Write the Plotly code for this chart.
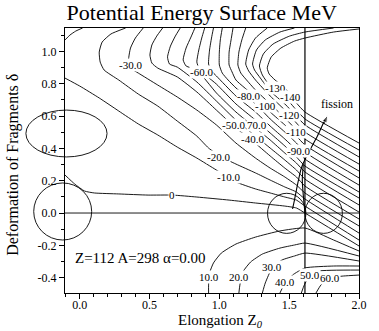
import plotly.graph_objects as go

# contour levels (MeV); x = elongation Z0, y = deformation delta
# None splits a level into separate pieces
lvl_m10_x = [-0.105, -0.070, -0.028, 0.021, None, -0.105, 0.000, 0.140, 0.280, 0.420, 0.559, 0.699, 0.839, 0.979, 1.119, 1.259, 1.364, 1.469, 1.552, 1.613, 2.000]
lvl_m10_y = [1.071, 1.101, 1.126, 1.145, None, 0.835, 0.786, 0.712, 0.631, 0.551, 0.483, 0.408, 0.340, 0.266, 0.192, 0.149, 0.124, 0.099, 0.080, 0.043, -0.167]
lvl_m20_x = [0.329, 0.224, 0.161, 0.140, 0.147, 0.175, 0.280, 0.420, 0.559, 0.699, 0.839, 0.923, 1.014, 1.119, 1.259, 1.364, 1.469, 1.552, 1.613, 2.000]
lvl_m20_y = [1.145, 1.108, 1.058, 0.996, 0.934, 0.885, 0.823, 0.736, 0.662, 0.569, 0.476, 0.402, 0.347, 0.303, 0.248, 0.204, 0.161, 0.130, 0.087, -0.124]
lvl_m30_x = [0.455, 0.399, 0.364, 0.350, 0.364, 0.420, 0.559, 0.699, 0.839, 0.979, 1.119, 1.259, 1.364, 1.469, 1.552, 1.613, 2.000]
lvl_m30_y = [1.145, 1.083, 1.021, 0.947, 0.897, 0.866, 0.792, 0.718, 0.637, 0.545, 0.433, 0.340, 0.278, 0.223, 0.173, 0.124, -0.080]
lvl_m40_x = [0.594, 0.552, 0.517, 0.503, 0.517, 0.559, 0.699, 0.839, 0.979, 1.119, 1.238, 1.364, 1.469, 1.552, 1.613, 2.000]
lvl_m40_y = [1.145, 1.095, 1.040, 0.978, 0.928, 0.897, 0.842, 0.749, 0.637, 0.526, 0.446, 0.353, 0.278, 0.223, 0.167, -0.037]
lvl_m50_x = [0.720, 0.685, 0.650, 0.629, 0.643, 0.699, 0.839, 0.979, 1.119, 1.259, 1.364, 1.469, 1.552, 1.613, 2.000]
lvl_m50_y = [1.145, 1.095, 1.033, 0.965, 0.922, 0.903, 0.811, 0.693, 0.575, 0.476, 0.402, 0.328, 0.266, 0.210, 0.006]
lvl_m60_x = [0.825, 0.797, 0.762, 0.741, 0.762, 0.839, 0.979, 1.119, 1.259, 1.364, 1.469, 1.552, 1.613, 2.000]
lvl_m60_y = [1.145, 1.089, 1.021, 0.947, 0.910, 0.885, 0.743, 0.625, 0.526, 0.452, 0.371, 0.309, 0.254, 0.050]
lvl_m70_x = [0.895, 0.874, 0.853, 0.839, 0.860, 0.909, 0.979, 1.119, 1.259, 1.364, 1.469, 1.552, 1.613, 2.000]
lvl_m70_y = [1.145, 1.083, 1.009, 0.934, 0.885, 0.848, 0.798, 0.675, 0.575, 0.495, 0.415, 0.347, 0.291, 0.093]
lvl_m80_x = [0.958, 0.944, 0.930, 0.923, 0.944, 0.979, 1.119, 1.259, 1.364, 1.469, 1.552, 1.613, 2.000]
lvl_m80_y = [1.145, 1.083, 1.009, 0.922, 0.879, 0.848, 0.724, 0.625, 0.538, 0.458, 0.390, 0.334, 0.130]
lvl_m90_x = [1.021, 1.007, 1.000, 1.000, 1.021, 1.063, 1.119, 1.259, 1.364, 1.469, 1.552, 1.613, 2.000]
lvl_m90_y = [1.145, 1.071, 0.996, 0.916, 0.866, 0.823, 0.774, 0.675, 0.582, 0.501, 0.433, 0.377, 0.173]
lvl_m100_x = [1.098, 1.084, 1.070, 1.070, 1.091, 1.119, 1.259, 1.364, 1.469, 1.552, 1.613, 2.000]
lvl_m100_y = [1.145, 1.071, 0.996, 0.916, 0.873, 0.823, 0.718, 0.625, 0.545, 0.476, 0.421, 0.217]
lvl_m110_x = [1.189, 1.161, 1.140, 1.133, 1.154, 1.189, 1.259, 1.364, 1.469, 1.552, 1.613, 2.000]
lvl_m110_y = [1.145, 1.071, 0.996, 0.916, 0.866, 0.829, 0.761, 0.675, 0.588, 0.514, 0.458, 0.260]
lvl_m120_x = [1.343, 1.259, 1.210, 1.189, 1.210, 1.259, 1.364, 1.469, 1.552, 1.613, 2.000]
lvl_m120_y = [1.145, 1.083, 1.009, 0.922, 0.879, 0.823, 0.724, 0.637, 0.557, 0.501, 0.303]
lvl_m130_x = [1.538, 1.434, 1.329, 1.266, 1.238, 1.252, 1.294, 1.364, 1.469, 1.552, 1.613, 2.000]
lvl_m130_y = [1.145, 1.120, 1.071, 1.009, 0.922, 0.885, 0.835, 0.755, 0.675, 0.600, 0.545, 0.347]
lvl_m140_x = [1.818, 1.613, 1.503, 1.385, 1.315, 1.287, 1.308, 1.364, 1.469, 1.552, 1.613, 2.000]
lvl_m140_y = [1.145, 1.120, 1.095, 1.046, 0.984, 0.910, 0.854, 0.786, 0.718, 0.637, 0.582, 0.390]
lvl_m150_x = [2.000, 1.818, 1.613, 1.538, 1.441, 1.371, 1.343, 1.357, 1.399, 1.469, 1.552, 1.613, 2.000]
lvl_m150_y = [1.139, 1.120, 1.083, 1.064, 1.021, 0.965, 0.897, 0.860, 0.823, 0.774, 0.681, 0.625, 0.433]
lvl_0_x = [-0.105, -0.035, 0.035, 0.105, 0.280, 0.490, 0.664, 0.839, 1.070, 1.259, 1.469, 1.552, 1.613, 2.000]
lvl_0_y = [0.235, 0.179, 0.136, 0.124, 0.118, 0.111, 0.111, 0.099, 0.080, 0.062, 0.043, 0.031, 0.000, -0.204]
lvl_10_x = [0.923, 0.923, 0.930, 0.958, 1.014, 1.119, 1.259, 1.434, 1.613, 1.818, 2.000]
lvl_10_y = [-0.495, -0.446, -0.371, -0.309, -0.248, -0.192, -0.149, -0.111, -0.093, -0.167, -0.235]
lvl_20_x = [1.140, 1.147, 1.168, 1.224, 1.308, 1.434, 1.538, 1.613, 2.000]
lvl_20_y = [-0.495, -0.446, -0.365, -0.303, -0.254, -0.217, -0.198, -0.186, -0.266]
lvl_30_x = [1.308, 1.329, 1.378, 1.448, 1.538, 1.613, 2.000]
lvl_30_y = [-0.495, -0.433, -0.340, -0.291, -0.266, -0.248, -0.297]
lvl_40_x = [1.434, 1.455, 1.483, 1.524, 1.613, 1.818, 2.000]
lvl_40_y = [-0.495, -0.458, -0.427, -0.384, -0.340, -0.328, -0.328]
lvl_50_x = [1.587, 1.608, 1.650, 1.713, 2.000]
lvl_50_y = [-0.495, -0.446, -0.384, -0.359, -0.353]
lvl_60_x = [1.692, 1.727, 1.783, 1.888, 2.000]
lvl_60_y = [-0.495, -0.446, -0.402, -0.390, -0.384]

# contour labels as printed on the figure
lab_text = ["-10.0", "-20.0", "-30.0", "-40.0", "-50.0", "70.0", "-60.0", "-80.0", "-100", "-110",
            "-120", "-130", "-140", "-90.0", "0", "10.0", "20.0", "30.0", "40.0", "50.0", "60.0"]
lab_x = [1.063, 0.993, 0.364, 1.238, 1.098, 1.273, 0.874, 1.210, 1.329, 1.552,
         1.503, 1.399, 1.510, 1.566, 0.664, 0.923, 1.140, 1.378, 1.469, 1.650, 1.790]
lab_y = [0.223, 0.347, 0.916, 0.458, 0.545, 0.545, 0.873, 0.724, 0.662, 0.501,
         0.606, 0.774, 0.718, 0.384, 0.111, -0.396, -0.396, -0.334, -0.427, -0.384, -0.402]

# fission path (two strands of the loop), arrow tip and scission point
path_x = [1.524, 1.538, 1.559, 1.587, 1.629, 1.699, 1.755, None, 1.613, 1.601, 1.594, 1.601]
path_y = [0.025, 0.080, 0.173, 0.278, 0.359, 0.470, 0.575, None, 0.000, 0.111, 0.204, 0.297]
arrow_x = [1.748, 1.776]
arrow_y = [0.551, 0.606]
z_scission = 1.613

# shape sketches (bounding boxes of the drawn nuclei)
circ_x0 = [-0.385, -0.329, 1.345, 1.613]
circ_x1 = [0.196, 0.086, 1.620, 1.881]
circ_y0 = [0.347, -0.167, -0.126, -0.126]
circ_y1 = [0.637, 0.186, 0.122, 0.122]

XR = [-0.105, 2.0]
YR = [-0.495, 1.145]
FONT = "Liberation Serif"

levels = [
    (lvl_m10_x, lvl_m10_y), (lvl_m20_x, lvl_m20_y), (lvl_m30_x, lvl_m30_y), (lvl_m40_x, lvl_m40_y),
    (lvl_m50_x, lvl_m50_y), (lvl_m60_x, lvl_m60_y), (lvl_m70_x, lvl_m70_y), (lvl_m80_x, lvl_m80_y),
    (lvl_m90_x, lvl_m90_y), (lvl_m100_x, lvl_m100_y), (lvl_m110_x, lvl_m110_y), (lvl_m120_x, lvl_m120_y),
    (lvl_m130_x, lvl_m130_y), (lvl_m140_x, lvl_m140_y), (lvl_m150_x, lvl_m150_y), (lvl_0_x, lvl_0_y),
    (lvl_10_x, lvl_10_y), (lvl_20_x, lvl_20_y), (lvl_30_x, lvl_30_y), (lvl_40_x, lvl_40_y),
    (lvl_50_x, lvl_50_y), (lvl_60_x, lvl_60_y),
]

fig = go.Figure()
for xs, ys in levels:
    fig.add_trace(go.Scatter(x=xs, y=ys, mode='lines', showlegend=False, hoverinfo='skip',
                             line=dict(color='black', width=0.9, shape='spline', smoothing=0.5)))

fig.add_trace(go.Scatter(x=path_x, y=path_y, mode='lines', showlegend=False, hoverinfo='skip',
                         line=dict(color='black', width=1.1, shape='spline', smoothing=0.6)))
fig.add_trace(go.Scatter(x=arrow_x, y=arrow_y, mode='lines+markers', showlegend=False, hoverinfo='skip',
                         line=dict(color='black', width=1.1),
                         marker=dict(symbol='arrow', size=[0, 8], angleref='previous', color='black')))


def dx(v):
    return (v - XR[0]) / (XR[1] - XR[0])


def dy(v):
    return (v - YR[0]) / (YR[1] - YR[0])


shapes = [
    dict(type='line', xref='x', yref='paper', x0=z_scission, x1=z_scission, y0=0, y1=1,
         line=dict(color='black', width=1.2)),
    dict(type='line', xref='paper', yref='y', x0=0, x1=1, y0=0, y1=0,
         line=dict(color='black', width=0.9)),
]
# domain refs so the left circles can spill over the axis like the original
for a, b, c, d in zip(circ_x0, circ_x1, circ_y0, circ_y1):
    shapes.append(dict(type='circle', xref='x domain', yref='y domain',
                       x0=dx(a), x1=dx(b), y0=dy(c), y1=dy(d),
                       line=dict(color='black', width=0.9)))

annotations = []
for t, x, y in zip(lab_text, lab_x, lab_y):
    annotations.append(dict(x=x, y=y, xref='x', yref='y', text=t, showarrow=False,
                            bgcolor='white', borderpad=0,
                            font=dict(family=FONT, size=11, color='black')))

annotations.append(dict(x=1.839, y=0.674, xref='x', yref='y', text='fission', showarrow=False,
                        font=dict(family=FONT, size=12, color='black')))
annotations.append(dict(x=-0.05, y=-0.278, xref='x', yref='y', xanchor='left', text='Z=112 A=298 α=0.00',
                        showarrow=False, font=dict(family=FONT, size=15, color='black')))
annotations.append(dict(x=0.528, y=-0.066, xref='paper', yref='paper', yanchor='top',
                        text='Elongation Z<sub><i>0</i></sub>',
                        showarrow=False, font=dict(family=FONT, size=15, color='black')))
annotations.append(dict(x=-0.215, y=0.483, xref='paper', yref='paper', text='Deformation of Fragments δ',
                        textangle=-90, showarrow=False, font=dict(family=FONT, size=16, color='black')))

fig.update_layout(
    width=379, height=331,
    margin=dict(l=65, r=13, t=28, b=38),
    paper_bgcolor='white', plot_bgcolor='white',
    title=dict(text='Potential Energy Surface MeV', x=0.465, xref='paper', y=0.963, yanchor='middle',
               xanchor='center', font=dict(family=FONT, size=22, color='black')),
    shapes=shapes,
    annotations=annotations,
)
fig.update_xaxes(range=XR, tickvals=[0.0, 0.5, 1.0, 1.5, 2.0], ticktext=['0.0', '0.5', '1.0', '1.5', '2.0'],
                 ticks='outside', ticklen=5, tickcolor='black', showgrid=False, zeroline=False,
                 showline=True, linecolor='black', linewidth=1, mirror=True, ticklabelstandoff=-4,
                 tickfont=dict(family=FONT, size=12, color='black'),
                 minor=dict(dtick=0.1, tick0=0, ticks='outside', ticklen=3, tickcolor='black'))
fig.update_yaxes(range=YR, tickvals=[-0.4, -0.2, 0.0, 0.2, 0.4, 0.6, 0.8, 1.0],
                 ticktext=['-0.4', '-0.2', '0.0', '0.2', '0.4', '0.6', '0.8', '1.0'],
                 ticks='outside', ticklen=5, tickcolor='black', showgrid=False, zeroline=False,
                 showline=True, linecolor='black', linewidth=1, mirror=True,
                 tickfont=dict(family=FONT, size=12, color='black'),
                 minor=dict(dtick=0.1, tick0=0, ticks='outside', ticklen=3, tickcolor='black'))

fig.write_html("out.html", config={'displayModeBar': False},
               post_script="document.body.style.margin='0';document.body.style.overflow='hidden';")
